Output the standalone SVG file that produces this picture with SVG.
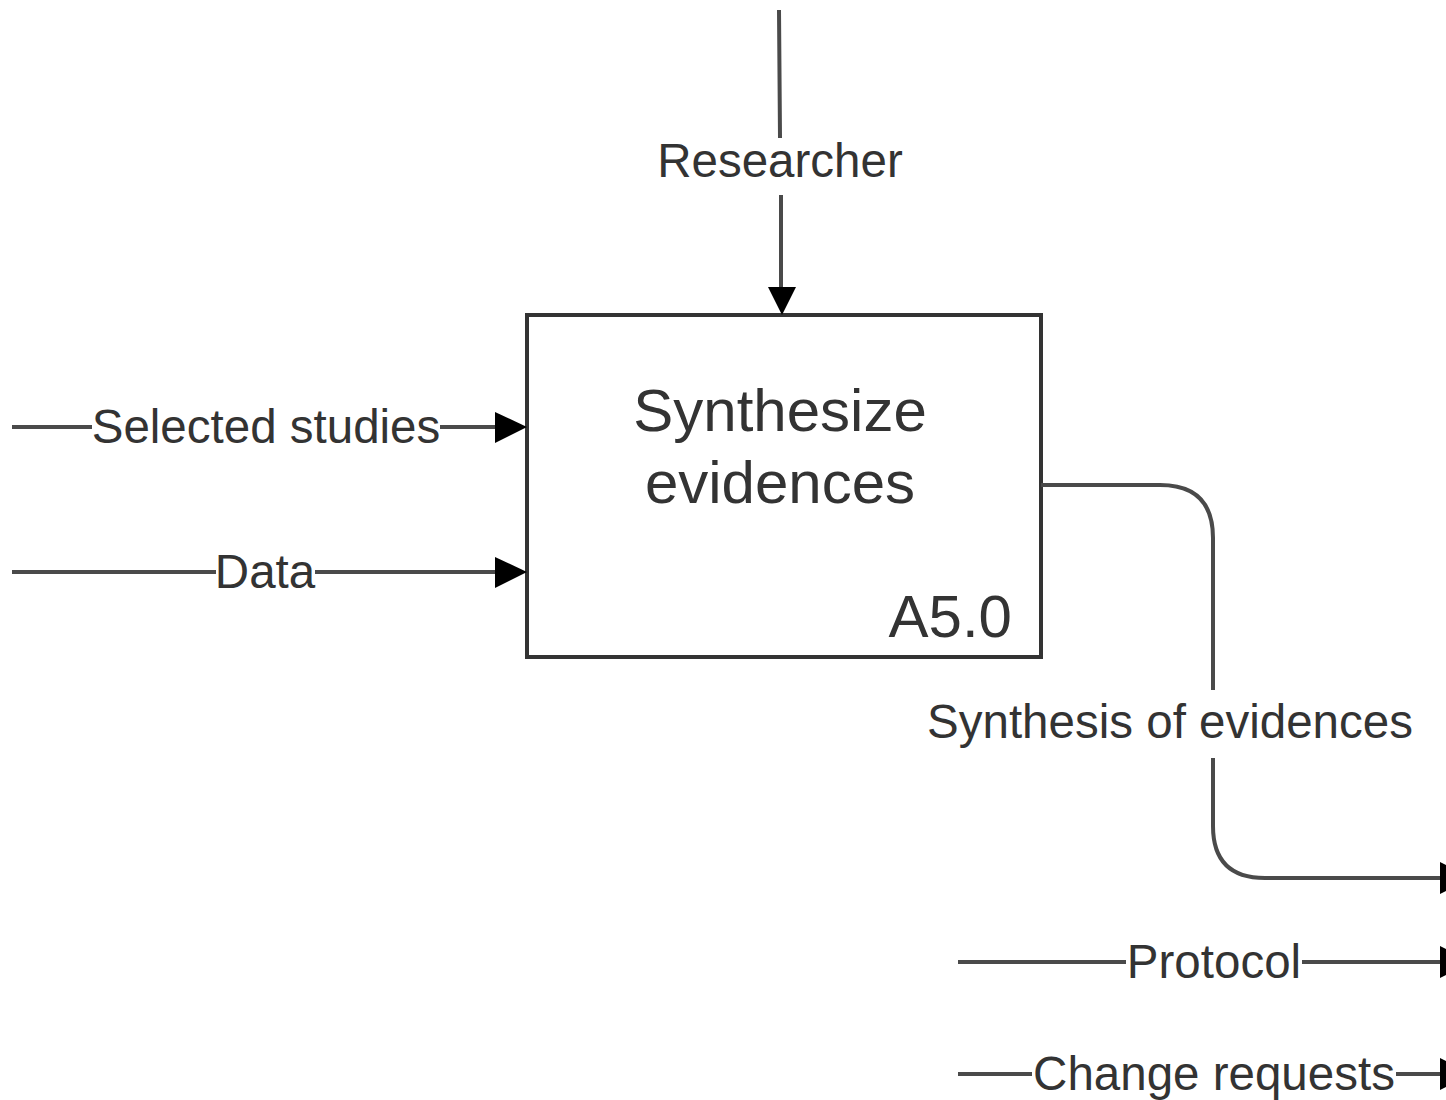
<svg xmlns="http://www.w3.org/2000/svg" width="1446" height="1100" viewBox="0 0 1446 1100">
  <style>
    .bg { fill: #ffffff; }
    .box { fill: #ffffff; stroke: #333333; stroke-width: 4; }
    .flow { fill: none; stroke: #4a4a4a; stroke-width: 4; }
    .head { fill: #000000; }
    .lbl { font-family: "Liberation Sans", Arial, sans-serif; font-size: 47.5px; fill: #333333; text-anchor: middle; }
    .title { font-family: "Liberation Sans", Arial, sans-serif; font-size: 60px; fill: #333333; text-anchor: middle; }
    .code { font-family: "Liberation Sans", Arial, sans-serif; font-size: 60px; fill: #333333; text-anchor: end; }
  </style>
  <rect class="bg" x="0" y="0" width="1446" height="1100"/>

  <!-- Activity box -->
  <g id="node-a5">
    <rect class="box" x="527" y="315" width="514" height="342"/>
    <text class="title" x="780" y="431">Synthesize</text>
    <text class="title" x="780" y="503">evidences</text>
    <text class="code" x="1012" y="637">A5.0</text>
  </g>

  <!-- Arrows -->
  <g id="connectors">
    <!-- mechanism: Researcher -->
    <g id="c-researcher">
      <path class="flow" d="M779 10 L780 138 M781 195 L781 292"/>
      <polygon class="head" points="768,287 796,287 782,315"/>
      <text class="lbl" x="780" y="177">Researcher</text>
    </g>
    <!-- input: Selected studies -->
    <g id="c-selected">
      <path class="flow" d="M12 427 L92 427 M440 427 L500 427"/>
      <polygon class="head" points="495,412 495,443 527,427"/>
      <text class="lbl" x="266" y="443">Selected studies</text>
    </g>
    <!-- input: Data -->
    <g id="c-data">
      <path class="flow" d="M12 572 L216 572 M315 572 L500 572"/>
      <polygon class="head" points="495,557 495,588 527,572"/>
      <text class="lbl" x="265" y="588">Data</text>
    </g>
    <!-- output: Synthesis of evidences -->
    <g id="c-synthesis">
      <path class="flow" d="M1041 485 L1160 485 Q1213 485 1213 538 L1213 690 M1213 758 L1213 826 Q1213 878 1265 878 L1446 878"/>
      <polygon class="head" points="1440,862 1440,894 1472,878"/>
      <text class="lbl" x="1170" y="738">Synthesis of evidences</text>
    </g>
    <!-- Protocol -->
    <g id="c-protocol">
      <path class="flow" d="M958 962 L1126 962 M1302 962 L1446 962"/>
      <polygon class="head" points="1440,946 1440,978 1472,962"/>
      <text class="lbl" x="1214" y="978">Protocol</text>
    </g>
    <!-- Change requests -->
    <g id="c-change">
      <path class="flow" d="M958 1074 L1032 1074 M1396 1074 L1446 1074"/>
      <polygon class="head" points="1440,1058 1440,1090 1472,1074"/>
      <text class="lbl" x="1214" y="1090">Change requests</text>
    </g>
  </g>
</svg>
